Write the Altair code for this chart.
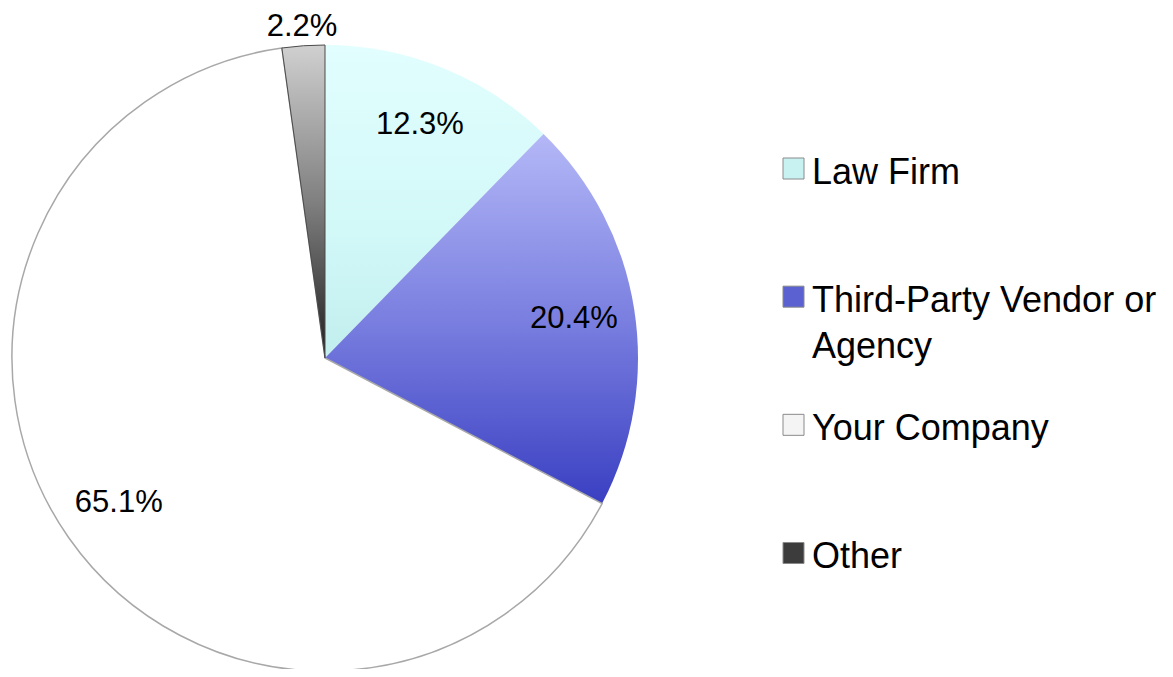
import math
import altair as alt
import pandas as pd

categories = ["Law Firm", "Third-Party Vendor or Agency", "Your Company", "Other"]
values = [12.3, 20.4, 65.1, 2.2]
legend_colors = ["#c8f2f2", "#5c61d2", "#f4f4f4", "#3c3c3c"]

gradients = [
    [("#e2fefe", 0), ("#d2f8f8", 0.6), ("#c2eeee", 1)],
    [("#b4b8f7", 0), ("#7a7fe0", 0.5), ("#3a3fc2", 1)],
    [("#ffffff", 0), ("#ffffff", 1)],
    [("#d0d0d0", 0), ("#808080", 0.5), ("#202020", 1)],
]
strokes = [None, None, "#a8a8a8", "#4a4a4a"]

df = pd.DataFrame({"category": categories, "value": values, "idx": list(range(len(categories)))})
total = sum(values)

theta_scale = alt.Scale(domain=[0, total], range=[0, 2 * math.pi])
R = 313

base = (
    alt.Chart(df)
    .transform_window(cum="sum(value)", sort=[alt.SortField("idx")], frame=[None, 0])
    .transform_calculate(start="datum.cum - datum.value", mid="datum.cum - datum.value / 2")
)

layers = []
for i, cat in enumerate(categories):
    grad = alt.LinearGradient(
        gradient="linear",
        stops=[alt.GradientStop(color=c, offset=o) for c, o in gradients[i]],
        x1=0, x2=0, y1=0, y2=1,
    )
    kw = {}
    if strokes[i]:
        kw = dict(stroke=strokes[i], strokeWidth=1.5 if i == 2 else 1)
    layers.append(
        base.transform_filter(alt.datum.idx == i)
        .mark_arc(radius=R, fill=grad, **kw)
        .encode(
            theta=alt.Theta("start:Q", scale=theta_scale, stack=None),
            theta2="cum:Q",
        )
    )

labels = (
    base.transform_calculate(
        lab="format(datum.value, '.1f') + '%'",
        lr="datum.value < 5 ? 332 : 252",
    )
    .mark_text(font="Liberation Sans", fontSize=31, color="#000000")
    .encode(
        theta=alt.Theta("mid:Q", scale=theta_scale, stack=None),
        radius=alt.Radius("lr:Q", scale=None),
        text="lab:N",
    )
)
layers.append(labels)

# legend (symbols + labels) placed on a point scale of the categories
leg_y = alt.Y(
    "category:N",
    scale=alt.Scale(type="point", domain=categories, range=[118.5, 503], padding=0),
    axis=None,
)
leg_symbols = alt.Chart(df).mark_square(size=441, stroke="#8a8a8a", strokeWidth=1, opacity=1).encode(
    y=leg_y,
    x=alt.value(785.5),
    color=alt.Color("category:N", scale=alt.Scale(domain=categories, range=legend_colors), legend=None),
)
leg_text = (
    alt.Chart(df)
    .transform_calculate(leglab="replace(datum.category, ' or Agency', ' or|Agency')")
    .mark_text(
        align="left", baseline="middle", font="Liberation Sans", fontSize=36,
        lineHeight=46, lineBreak="|", dy=4, color="#000000",
    )
    .encode(y=leg_y, x=alt.value(804), text="leglab:N")
)
layers += [leg_symbols, leg_text]

chart = (
    alt.layer(*layers)
    .properties(
        width=634,
        height=616,
        padding={"left": 0, "top": 42, "right": 523, "bottom": 3},
        autosize=alt.AutoSizeParams(type="none"),
        background="#ffffff",
    )
    .configure_view(stroke=None)
)

chart.save("out.html", embed_options={"renderer": "svg", "actions": False})
